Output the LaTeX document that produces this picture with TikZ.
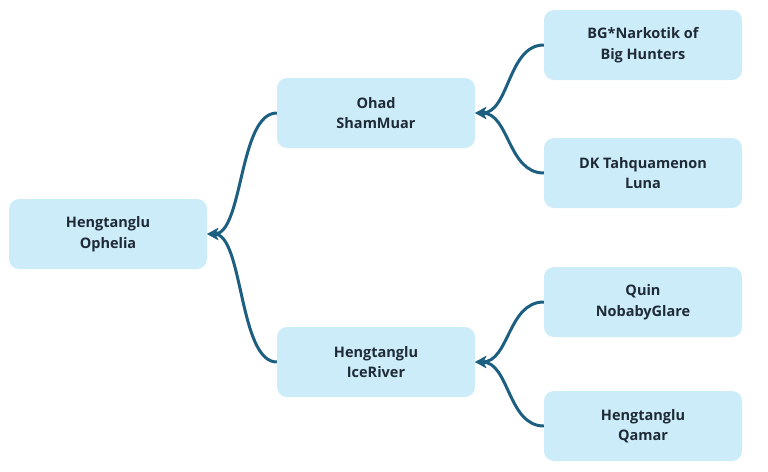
\documentclass[tikz,border=0pt]{standalone}
\usepackage{fontspec}
\setmainfont{Open Sans}
\usetikzlibrary{arrows.meta}
\definecolor{boxfill}{RGB}{204,236,250}
\definecolor{linkcol}{RGB}{29,95,128}
\definecolor{txtcol}{RGB}{30,42,54}
\begin{document}
\begin{tikzpicture}[x=1pt,y=-1pt,
  topic/.style={draw=none,fill=boxfill,rounded corners=10pt,minimum width=198pt,minimum height=70pt,
    align=center,text=txtcol,font=\fontsize{14.5}{20.5}\selectfont\bfseries,inner sep=0pt},
  link/.style={draw=linkcol,line width=3pt,-{Stealth[length=11pt,width=12pt,inset=3pt]}}]
\useasboundingbox (0,0) rectangle (768,471);
\node[topic] (root) at (108,234) {Hengtanglu\\Ophelia};
\node[topic] (ohad) at (376,113) {Ohad\\ShamMuar};
\node[topic] (ice) at (376,362) {Hengtanglu\\IceRiver};
\node[topic] (bg) at (643,45) {BG*Narkotik of\\Big Hunters};
\node[topic] (dk) at (643,173) {DK Tahquamenon\\Luna};
\node[topic] (quin) at (643,302) {Quin\\NobabyGlare};
\node[topic] (qamar) at (643,426) {Hengtanglu\\Qamar};
\draw[link] (ohad.west) .. controls +(-38,0) and +(36,0) .. (root.east);
\draw[link] (ice.west) .. controls +(-38,0) and +(36,0) .. (root.east);
\draw[link] (bg.west) .. controls +(-36,0) and +(34,0) .. (ohad.east);
\draw[link] (dk.west) .. controls +(-36,0) and +(34,0) .. (ohad.east);
\draw[link] (quin.west) .. controls +(-36,0) and +(34,0) .. (ice.east);
\draw[link] (qamar.west) .. controls +(-36,0) and +(34,0) .. (ice.east);
\end{tikzpicture}
\end{document}
